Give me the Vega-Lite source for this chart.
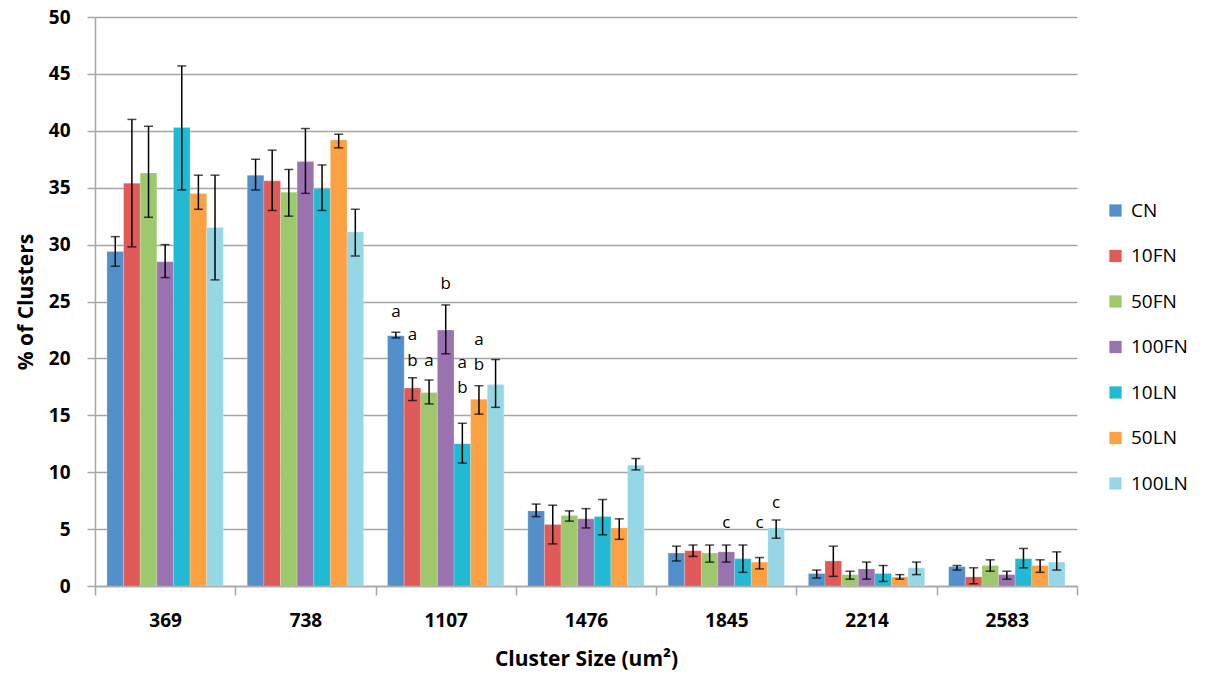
{
  "$schema": "https://vega.github.io/schema/vega-lite/v6.json",
  "autosize": {"type": "none"},
  "padding": {"left": 95, "top": 17, "right": 136, "bottom": 95},
  "width": 982,
  "height": 569,
  "background": "white",
  "config": {
    "view": {"stroke": null},
    "font": "Open Sans",
    "axis": {"labelFont": "Open Sans", "titleFont": "Open Sans"}
  },
  "datasets": {
    "bars": [
      {"cluster": "369", "series": "CN", "value": 29.4, "lo": 28.1, "hi": 30.7},
      {"cluster": "369", "series": "10FN", "value": 35.4, "lo": 29.8, "hi": 41.0},
      {"cluster": "369", "series": "50FN", "value": 36.3, "lo": 32.4, "hi": 40.4},
      {"cluster": "369", "series": "100FN", "value": 28.5, "lo": 27.1, "hi": 30.0},
      {"cluster": "369", "series": "10LN", "value": 40.3, "lo": 34.8, "hi": 45.7},
      {"cluster": "369", "series": "50LN", "value": 34.5, "lo": 33.1, "hi": 36.1},
      {"cluster": "369", "series": "100LN", "value": 31.5, "lo": 26.9, "hi": 36.1},
      {"cluster": "738", "series": "CN", "value": 36.1, "lo": 34.8, "hi": 37.5},
      {"cluster": "738", "series": "10FN", "value": 35.6, "lo": 33.0, "hi": 38.3},
      {"cluster": "738", "series": "50FN", "value": 34.6, "lo": 32.5, "hi": 36.6},
      {"cluster": "738", "series": "100FN", "value": 37.3, "lo": 34.5, "hi": 40.2},
      {"cluster": "738", "series": "10LN", "value": 34.9, "lo": 33.0, "hi": 37.0},
      {"cluster": "738", "series": "50LN", "value": 39.2, "lo": 38.5, "hi": 39.7},
      {"cluster": "738", "series": "100LN", "value": 31.1, "lo": 29.0, "hi": 33.1},
      {"cluster": "1107", "series": "CN", "value": 22.0, "lo": 21.8, "hi": 22.3},
      {"cluster": "1107", "series": "10FN", "value": 17.4, "lo": 16.3, "hi": 18.3},
      {"cluster": "1107", "series": "50FN", "value": 17.0, "lo": 16.0, "hi": 18.1},
      {"cluster": "1107", "series": "100FN", "value": 22.5, "lo": 20.4, "hi": 24.7},
      {"cluster": "1107", "series": "10LN", "value": 12.5, "lo": 10.8, "hi": 14.3},
      {"cluster": "1107", "series": "50LN", "value": 16.4, "lo": 15.1, "hi": 17.6},
      {"cluster": "1107", "series": "100LN", "value": 17.7, "lo": 15.7, "hi": 19.9},
      {"cluster": "1476", "series": "CN", "value": 6.6, "lo": 6.1, "hi": 7.2},
      {"cluster": "1476", "series": "10FN", "value": 5.4, "lo": 3.7, "hi": 7.1},
      {"cluster": "1476", "series": "50FN", "value": 6.2, "lo": 5.7, "hi": 6.6},
      {"cluster": "1476", "series": "100FN", "value": 5.9, "lo": 5.1, "hi": 6.8},
      {"cluster": "1476", "series": "10LN", "value": 6.1, "lo": 4.5, "hi": 7.6},
      {"cluster": "1476", "series": "50LN", "value": 5.1, "lo": 4.1, "hi": 5.9},
      {"cluster": "1476", "series": "100LN", "value": 10.6, "lo": 10.2, "hi": 11.2},
      {"cluster": "1845", "series": "CN", "value": 2.9, "lo": 2.2, "hi": 3.5},
      {"cluster": "1845", "series": "10FN", "value": 3.1, "lo": 2.6, "hi": 3.6},
      {"cluster": "1845", "series": "50FN", "value": 2.9, "lo": 2.1, "hi": 3.6},
      {"cluster": "1845", "series": "100FN", "value": 3.0, "lo": 2.1, "hi": 3.6},
      {"cluster": "1845", "series": "10LN", "value": 2.4, "lo": 1.2, "hi": 3.6},
      {"cluster": "1845", "series": "50LN", "value": 2.1, "lo": 1.5, "hi": 2.5},
      {"cluster": "1845", "series": "100LN", "value": 5.1, "lo": 4.2, "hi": 5.8},
      {"cluster": "2214", "series": "CN", "value": 1.1, "lo": 0.7, "hi": 1.4},
      {"cluster": "2214", "series": "10FN", "value": 2.2, "lo": 0.85, "hi": 3.5},
      {"cluster": "2214", "series": "50FN", "value": 1.0, "lo": 0.6, "hi": 1.3},
      {"cluster": "2214", "series": "100FN", "value": 1.5, "lo": 0.6, "hi": 2.1},
      {"cluster": "2214", "series": "10LN", "value": 1.1, "lo": 0.4, "hi": 1.8},
      {"cluster": "2214", "series": "50LN", "value": 0.8, "lo": 0.6, "hi": 1.0},
      {"cluster": "2214", "series": "100LN", "value": 1.6, "lo": 1.0, "hi": 2.1},
      {"cluster": "2583", "series": "CN", "value": 1.7, "lo": 1.4, "hi": 1.8},
      {"cluster": "2583", "series": "10FN", "value": 0.8, "lo": 0.2, "hi": 1.6},
      {"cluster": "2583", "series": "50FN", "value": 1.8, "lo": 1.3, "hi": 2.3},
      {"cluster": "2583", "series": "100FN", "value": 1.0, "lo": 0.6, "hi": 1.3},
      {"cluster": "2583", "series": "10LN", "value": 2.4, "lo": 1.6, "hi": 3.3},
      {"cluster": "2583", "series": "50LN", "value": 1.8, "lo": 1.2, "hi": 2.3},
      {"cluster": "2583", "series": "100LN", "value": 2.1, "lo": 1.4, "hi": 3.0}
    ],
    "letters": [
      {"cluster": "1107", "series": "CN", "label": "a", "pos": 24.1},
      {"cluster": "1107", "series": "10FN", "label": "a", "pos": 22.1},
      {"cluster": "1107", "series": "10FN", "label": "b", "pos": 19.8},
      {"cluster": "1107", "series": "50FN", "label": "a", "pos": 19.8},
      {"cluster": "1107", "series": "100FN", "label": "b", "pos": 26.5},
      {"cluster": "1107", "series": "10LN", "label": "a", "pos": 19.6},
      {"cluster": "1107", "series": "10LN", "label": "b", "pos": 17.4},
      {"cluster": "1107", "series": "50LN", "label": "a", "pos": 21.6},
      {"cluster": "1107", "series": "50LN", "label": "b", "pos": 19.4},
      {"cluster": "1845", "series": "100FN", "label": "c", "pos": 5.5},
      {"cluster": "1845", "series": "50LN", "label": "c", "pos": 5.5},
      {"cluster": "1845", "series": "100LN", "label": "c", "pos": 7.3}
    ]
  },
  "layer": [
    {
      "data": {"name": "bars"},
      "mark": {"type": "bar", "stroke": "#ffffff", "strokeOpacity": 0.4, "strokeWidth": 0.5},
      "encoding": {
        "x": {
          "field": "cluster", "type": "nominal",
          "sort": ["369", "738", "1107", "1476", "1845", "2214", "2583"],
          "scale": {"paddingInner": 0, "paddingOuter": 0},
          "axis": {
            "title": "Cluster Size (um²)",
            "titleFontSize": 21, "titleFontWeight": "bold", "titleColor": "#000000", "titlePadding": 18,
            "labelAngle": 0, "labelFontSize": 19, "labelFontWeight": "bold", "labelColor": "#000000", "labelPadding": 16,
            "tickBand": "extent", "tickSize": 9, "tickColor": "#A6A6A6", "tickWidth": 1.5,
            "domainColor": "#A6A6A6", "domainWidth": 1.5, "grid": false
          }
        },
        "xOffset": {
          "field": "series", "type": "nominal",
          "sort": ["CN", "10FN", "50FN", "100FN", "10LN", "50LN", "100LN"],
          "scale": {"domain": ["CN", "10FN", "50FN", "100FN", "10LN", "50LN", "100LN"], "paddingInner": 0, "paddingOuter": 0.72}
        },
        "y": {
          "field": "value", "type": "quantitative",
          "scale": {"domain": [0, 50], "nice": false},
          "axis": {
            "title": "% of Clusters", "values": [0, 5, 10, 15, 20, 25, 30, 35, 40, 45, 50],
            "titleFontSize": 21, "titleFontWeight": "bold", "titleColor": "#000000", "titlePadding": 12,
            "labelFontSize": 19, "labelFontWeight": "bold", "labelColor": "#000000", "labelPadding": 17,
            "tickSize": 8, "tickColor": "#A6A6A6", "tickWidth": 1.5,
            "domainColor": "#A6A6A6", "domainWidth": 1.5,
            "grid": true, "gridColor": "#A6A6A6", "gridWidth": 1.5
          }
        },
        "color": {
          "field": "series", "type": "nominal",
          "scale": {
            "domain": ["CN", "10FN", "50FN", "100FN", "10LN", "50LN", "100LN"],
            "range": ["#5390CB", "#DF5A58", "#9DC86B", "#9B72B0", "#22B9D3", "#FBA142", "#95D7E5"]
          },
          "legend": {
            "title": null, "orient": "none", "legendX": 1011, "legendY": 184,
            "symbolType": "square", "symbolSize": 150, "symbolStrokeWidth": 0,
            "labelFontSize": 19, "labelColor": "#000000", "labelFont": "Open Sans",
            "rowPadding": 25.5, "labelOffset": 6
          }
        }
      }
    },
    {
      "data": {"name": "bars"},
      "mark": {"type": "rule", "color": "#000000", "strokeWidth": 1.5},
      "encoding": {
        "x": {"field": "cluster", "type": "nominal", "sort": ["369", "738", "1107", "1476", "1845", "2214", "2583"]},
        "xOffset": {"field": "series", "type": "nominal", "sort": ["CN", "10FN", "50FN", "100FN", "10LN", "50LN", "100LN"]},
        "y": {"field": "lo", "type": "quantitative"},
        "y2": {"field": "hi"}
      }
    },
    {
      "data": {"name": "bars"},
      "mark": {"type": "tick", "color": "#000000", "orient": "horizontal", "size": 9, "thickness": 1.5},
      "encoding": {
        "x": {"field": "cluster", "type": "nominal", "sort": ["369", "738", "1107", "1476", "1845", "2214", "2583"]},
        "xOffset": {"field": "series", "type": "nominal", "sort": ["CN", "10FN", "50FN", "100FN", "10LN", "50LN", "100LN"]},
        "y": {"field": "lo", "type": "quantitative"}
      }
    },
    {
      "data": {"name": "bars"},
      "mark": {"type": "tick", "color": "#000000", "orient": "horizontal", "size": 9, "thickness": 1.5},
      "encoding": {
        "x": {"field": "cluster", "type": "nominal", "sort": ["369", "738", "1107", "1476", "1845", "2214", "2583"]},
        "xOffset": {"field": "series", "type": "nominal", "sort": ["CN", "10FN", "50FN", "100FN", "10LN", "50LN", "100LN"]},
        "y": {"field": "hi", "type": "quantitative"}
      }
    },
    {
      "data": {"name": "letters"},
      "mark": {"type": "text", "fontSize": 17, "color": "#000000", "font": "Open Sans", "baseline": "middle"},
      "encoding": {
        "x": {"field": "cluster", "type": "nominal", "sort": ["369", "738", "1107", "1476", "1845", "2214", "2583"]},
        "xOffset": {"field": "series", "type": "nominal", "sort": ["CN", "10FN", "50FN", "100FN", "10LN", "50LN", "100LN"]},
        "y": {"field": "pos", "type": "quantitative"},
        "text": {"field": "label"}
      }
    }
  ]
}
